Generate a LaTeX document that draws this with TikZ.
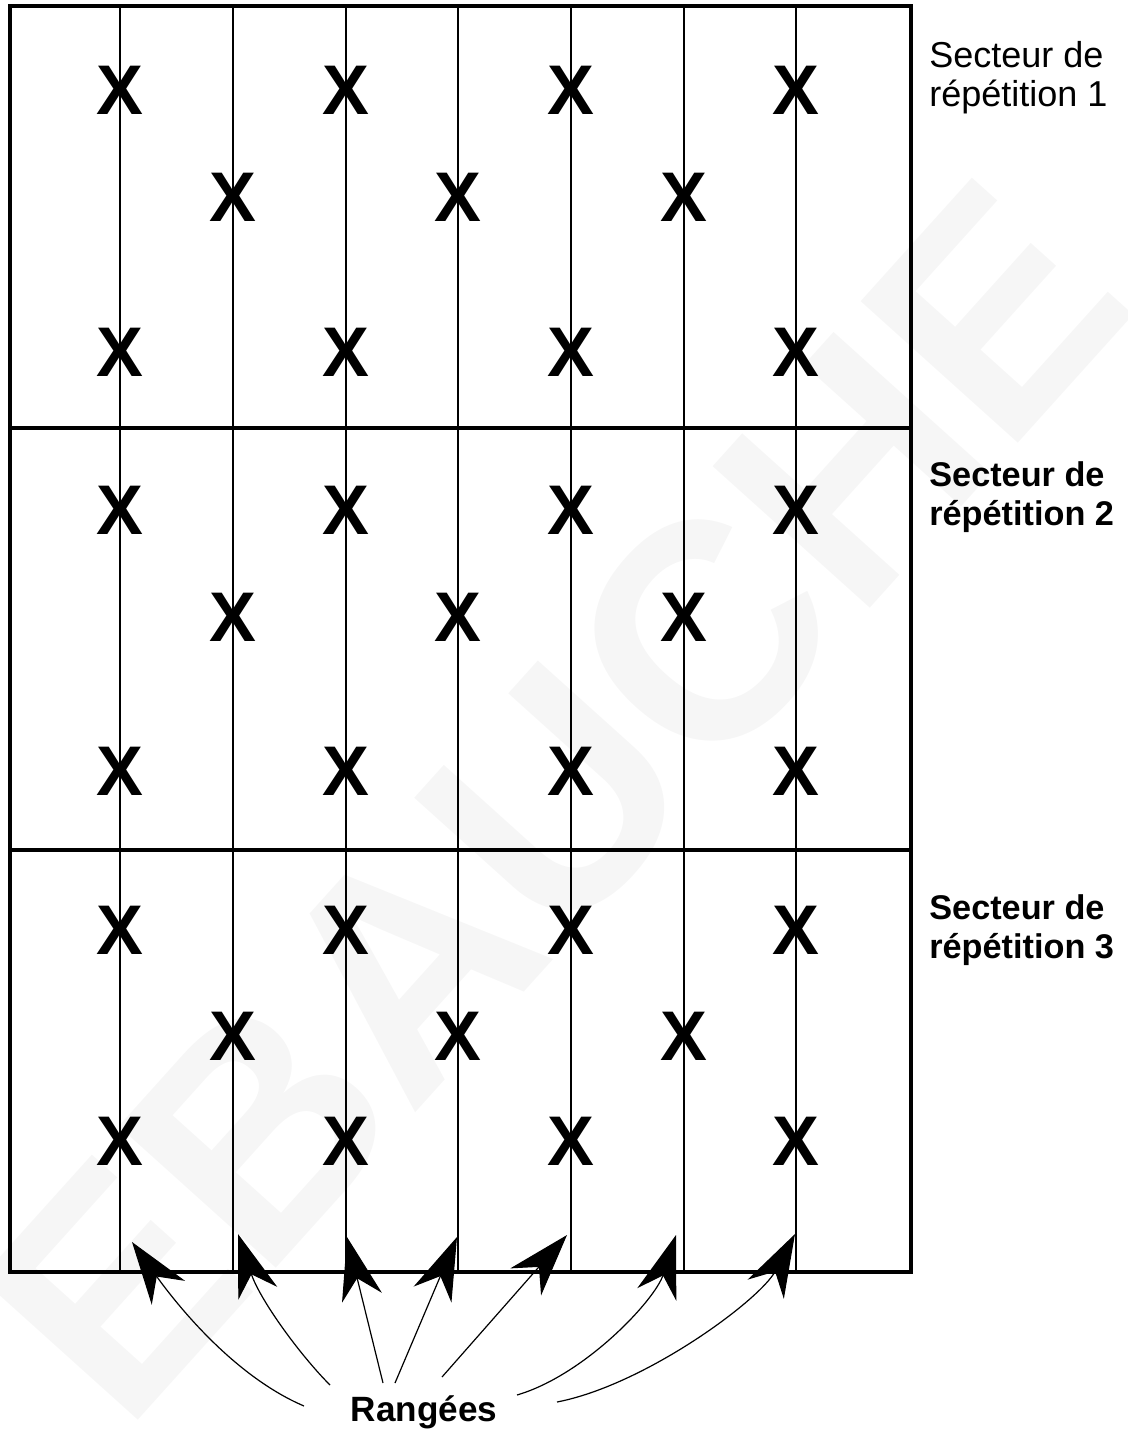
\documentclass[tikz,border=0pt]{standalone}
\usepackage{fontspec}
\setmainfont{Liberation Sans}
\usepackage{tikz}
\usetikzlibrary{positioning,arrows.meta}
\definecolor{filigrane}{gray}{0.966}
\tikzset{
  cadre/.style={line width=0.08cm},
  rangee/.style={line width=0.03cm},
  plant/.style={inner sep=0pt, font=\fontsize{40}{40}\selectfont\bfseries},
  secteur/.style={anchor=west, align=left, inner sep=0pt, font=\fontsize{20.5}{22}\selectfont},
  secteurgras/.style={secteur, font=\fontsize{19.5}{22}\selectfont\bfseries},
  renvoi/.style={-{Stealth[length=12.5mm, width=8.2mm, inset=4mm]}, line width=0.024cm},
  etiquette/.style={inner sep=0pt, font=\fontsize{20}{22}\selectfont\bfseries}
}

\begin{document}
\begin{tikzpicture}[x=0.02cm, y=-0.02cm]
      \useasboundingbox (0,0) rectangle (1128,1433);
      % filigrane
      \node[rotate=48, text=filigrane, inner sep=0pt, font=\fontsize{175}{175}\selectfont\bfseries] (ebauche) at (555,800) {EBAUCHE};
      % rangees
      \foreach \x in {120,233,346,458,571,684,796}
        \draw[rangee] (\x,6) -- (\x,1272);
      % cadre et secteurs
      \draw[cadre] (10,6) rectangle (911,1272);
      \draw[cadre] (10,428) -- (911,428);
      \draw[cadre] (10,850) -- (911,850);
      % plants
      \foreach \s/\ya/\yb/\yc in {1/90/197/352, 2/510/617/771, 3/930/1036/1141} {
        \foreach \x [count=\i] in {120,346,571,796} {
          \node[plant] (p\s a\i) at (\x,\ya) {X};
          \node[plant] (p\s c\i) at (\x,\yc) {X};
        }
        \foreach \x [count=\i] in {233,458,684}
          \node[plant] (p\s b\i) at (\x,\yb) {X};
      }
      \node[secteur] (s1) at (929,78) {Secteur de\\répétition 1};
      \node[secteurgras] (s2) at (929,497) {Secteur de\\répétition 2};
      \node[secteurgras] (s3) at (929,930) {Secteur de\\répétition 3};
      % renvois
      \node[etiquette] (rang) at (424,1412) {Rangées};
      \coordinate (q1) at (304,1406);
      \coordinate (q2) at (330,1385);
      \coordinate (q3) at (383,1383);
      \coordinate (q4) at (395,1383);
      \coordinate (q5) at (442,1377);
      \coordinate (q6) at (517,1395);
      \coordinate (q7) at (557,1402);
      \coordinate (t1) at (132,1242);
      \coordinate (t2) at (238,1234);
      \coordinate (t3) at (347,1237);
      \coordinate (t4) at (457,1237);
      \coordinate (t5) at (567,1235);
      \coordinate (t6) at (676,1235);
      \coordinate (t7) at (795,1234);
      \draw[renvoi] (q1) .. controls (229,1374) and (170,1295) .. (t1);
      \draw[renvoi] (q2) .. controls (300,1355) and (260,1300) .. (t2);
      \draw[renvoi] (q3) -- (t3);
      \draw[renvoi] (q4) -- (t4);
      \draw[renvoi] (q5) -- (t5);
      \draw[renvoi] (q6) .. controls (585,1375) and (655,1300) .. (t6);
      \draw[renvoi] (q7) .. controls (645,1385) and (760,1300) .. (t7);
    \end{tikzpicture}
\end{document}
